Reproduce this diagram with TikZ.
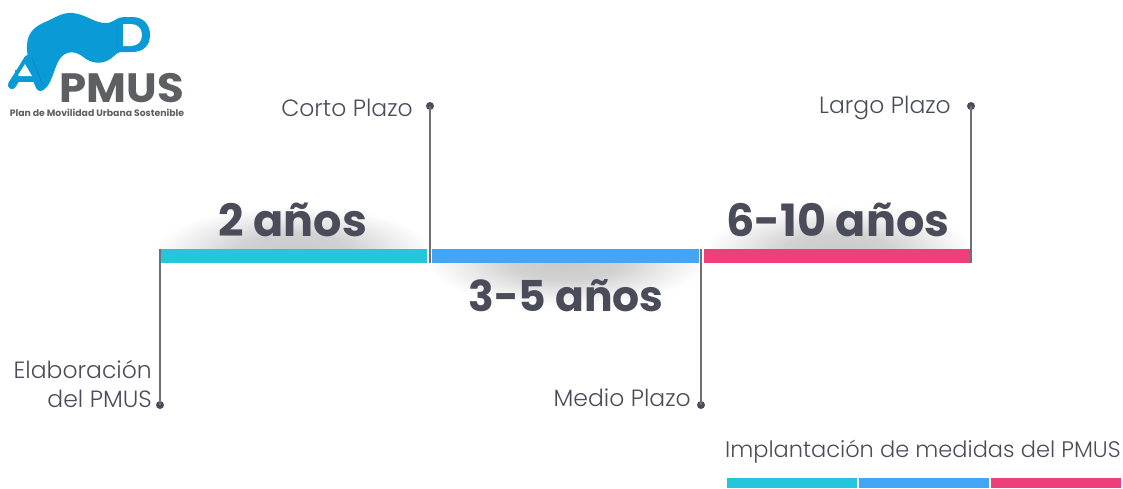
\documentclass[tikz,border=0pt]{standalone}
\usepackage{fontspec}
\setmainfont{Poppins}
\newfontfamily\lab{Poppins Light}
\newfontfamily\hd{Poppins}
\definecolor{ink}{HTML}{4A4C5A}
\definecolor{stem}{HTML}{6E7078}
\definecolor{teal}{HTML}{25C6DC}
\definecolor{sky}{HTML}{42A5F5}
\definecolor{rose}{HTML}{EE3F7C}
\definecolor{logob}{HTML}{0A9BD6}
\definecolor{logod}{HTML}{0A8CC2}
\definecolor{logog}{HTML}{5E5F63}
\pgfdeclareradialshading{softshadow}{\pgfpoint{0bp}{0bp}}{color(0bp)=(black!21); color(10bp)=(black!18); color(18bp)=(black!8); color(25bp)=(white); color(50bp)=(white)}
\tikzset{
 barseg/.style={fill=#1,draw=none},
 stemline/.style={draw=stem,line width=1.6pt},
 dotn/.style={circle,fill=ink,draw=none,inner sep=0pt,minimum size=8pt},
 lbl/.style={font=\lab\fontsize{23.5}{29}\selectfont,text=ink,inner sep=0pt,align=right},
 big/.style={font=\hd\bfseries\fontsize{44.5}{44.5}\selectfont,text=ink,inner sep=0pt},
 legend/.style={font=\lab\fontsize{22.5}{26}\selectfont,text=ink,inner sep=0pt},
}
\begin{document}
\begin{tikzpicture}[x=1pt,y=-1pt]
\useasboundingbox (0,0) rectangle (1123,488);
% shadows
\begin{scope}
\clip (150,190) rectangle (425,250);
\shade[shading=softshadow] (294,252) ellipse [x radius=140,y radius=46];
\end{scope}
\begin{scope}
\clip (430,263) rectangle (700,320);
\shade[shading=softshadow] (566,262) ellipse [x radius=140,y radius=44];
\end{scope}
\begin{scope}
\clip (704,190) rectangle (970,250);
\shade[shading=softshadow] (838,252) ellipse [x radius=136,y radius=46];
\end{scope}
% bars
\path[barseg=teal] (160,249) rectangle (427,263);
\path[barseg=sky] (432,249) rectangle (699,263);
\path[barseg=rose] (704,249) rectangle (971,263);
% dots and stems
\node[dotn] (d1) at (160,405) {};
\node[dotn] (d2) at (430,106) {};
\node[dotn] (d3) at (701,405) {};
\node[dotn] (d4) at (971,106) {};
\coordinate (b1) at (160,249);
\coordinate (b2) at (430,263);
\coordinate (b3) at (701,249);
\coordinate (b4) at (971,263);
\draw[stemline] (b1) -- (d1.center);
\draw[stemline] (b2) -- (d2.center);
\draw[stemline] (b3) -- (d3.center);
\draw[stemline] (b4) -- (d4.center);
% labels
\node[lbl,anchor=east] (l1) at (152,383.5) {Elaboración\\del PMUS};
\node[lbl,anchor=east] (l2) at (413,108) {Corto Plazo};
\node[lbl,anchor=east] (l3) at (691,398) {Medio Plazo};
\node[lbl,anchor=east] (l4) at (951,108) {Largo Plazo};
\node[big] (t1) at (293,220) {2 años};
\node[big,font=\hd\bfseries\fontsize{42.5}{42.5}\selectfont] (t2) at (566,295.5) {3-5 años};
\node[big] (t3) at (838,220) {6-10 años};
% legend
\node[legend,anchor=west] (leg) at (725,452) {Implantación de medidas del PMUS};
\path[barseg=teal] (727,478) rectangle (857,488);
\path[barseg=sky] (859,478) rectangle (989,488);
\path[barseg=rose] (991,478) rectangle (1121,488);
% logo
\fill[logob] (28,58) .. controls (25,40) and (28,30) .. (43,23)
 .. controls (55,18) and (62,12) .. (73,13)
 .. controls (88,15) and (95,24) .. (108,23)
 .. controls (114,22) and (117,17) .. (124,17)
 -- (132,17) .. controls (144,17) and (150,25) .. (150,35)
 .. controls (150,46) and (143,52) .. (132,52)
 -- (122,52) .. controls (118,52) and (116,54) .. (114,56)
 .. controls (105,65) and (92,65) .. (82,56)
 .. controls (72,49) and (62,52) .. (57,64)
 .. controls (52,76) and (50,88) .. (41,91)
 .. controls (38,92) and (36,88) .. (35,82) -- cycle;
\draw[logob,line width=8pt,line cap=round,line join=round,fill=logob] (12,85) -- (28,59) -- (39,86);
\fill[logob] (15,70) -- (38,70) -- (36,82) -- (17,82) -- cycle;
\draw[logod,line width=1pt] (32,58) -- (43,86);
\draw[logod,line width=1pt] (117,25) -- (117,50);
\fill[white] (25,64) -- (17.5,76) -- (32,76) -- cycle;
\fill[white] (16.5,82) -- (35,82) -- (37,92) -- (13,92) -- cycle;
\draw[logob,line width=8pt,line cap=round] (12,85) -- (16,78.6);
\draw[logob,line width=7pt,line cap=round] (36,79) -- (39,86);
\fill[white] (123,24) -- (131,24) .. controls (138,24) and (142,29) .. (142,35) .. controls (142,41) and (138,46) .. (131,46) -- (123,46) -- cycle;
\node[font=\hd\bfseries\fontsize{41}{41}\selectfont,text=logog,inner sep=0pt,text height=29pt,text depth=0pt] (pm) at (122,88) {\scalebox{1.06}[1]{PMUS}};
\node[font=\hd\bfseries\fontsize{9.3}{10}\selectfont,text=logog,inner sep=0pt] (sub) at (97,113) {Plan de Movilidad Urbana Sostenible};
\end{tikzpicture}
\end{document}
